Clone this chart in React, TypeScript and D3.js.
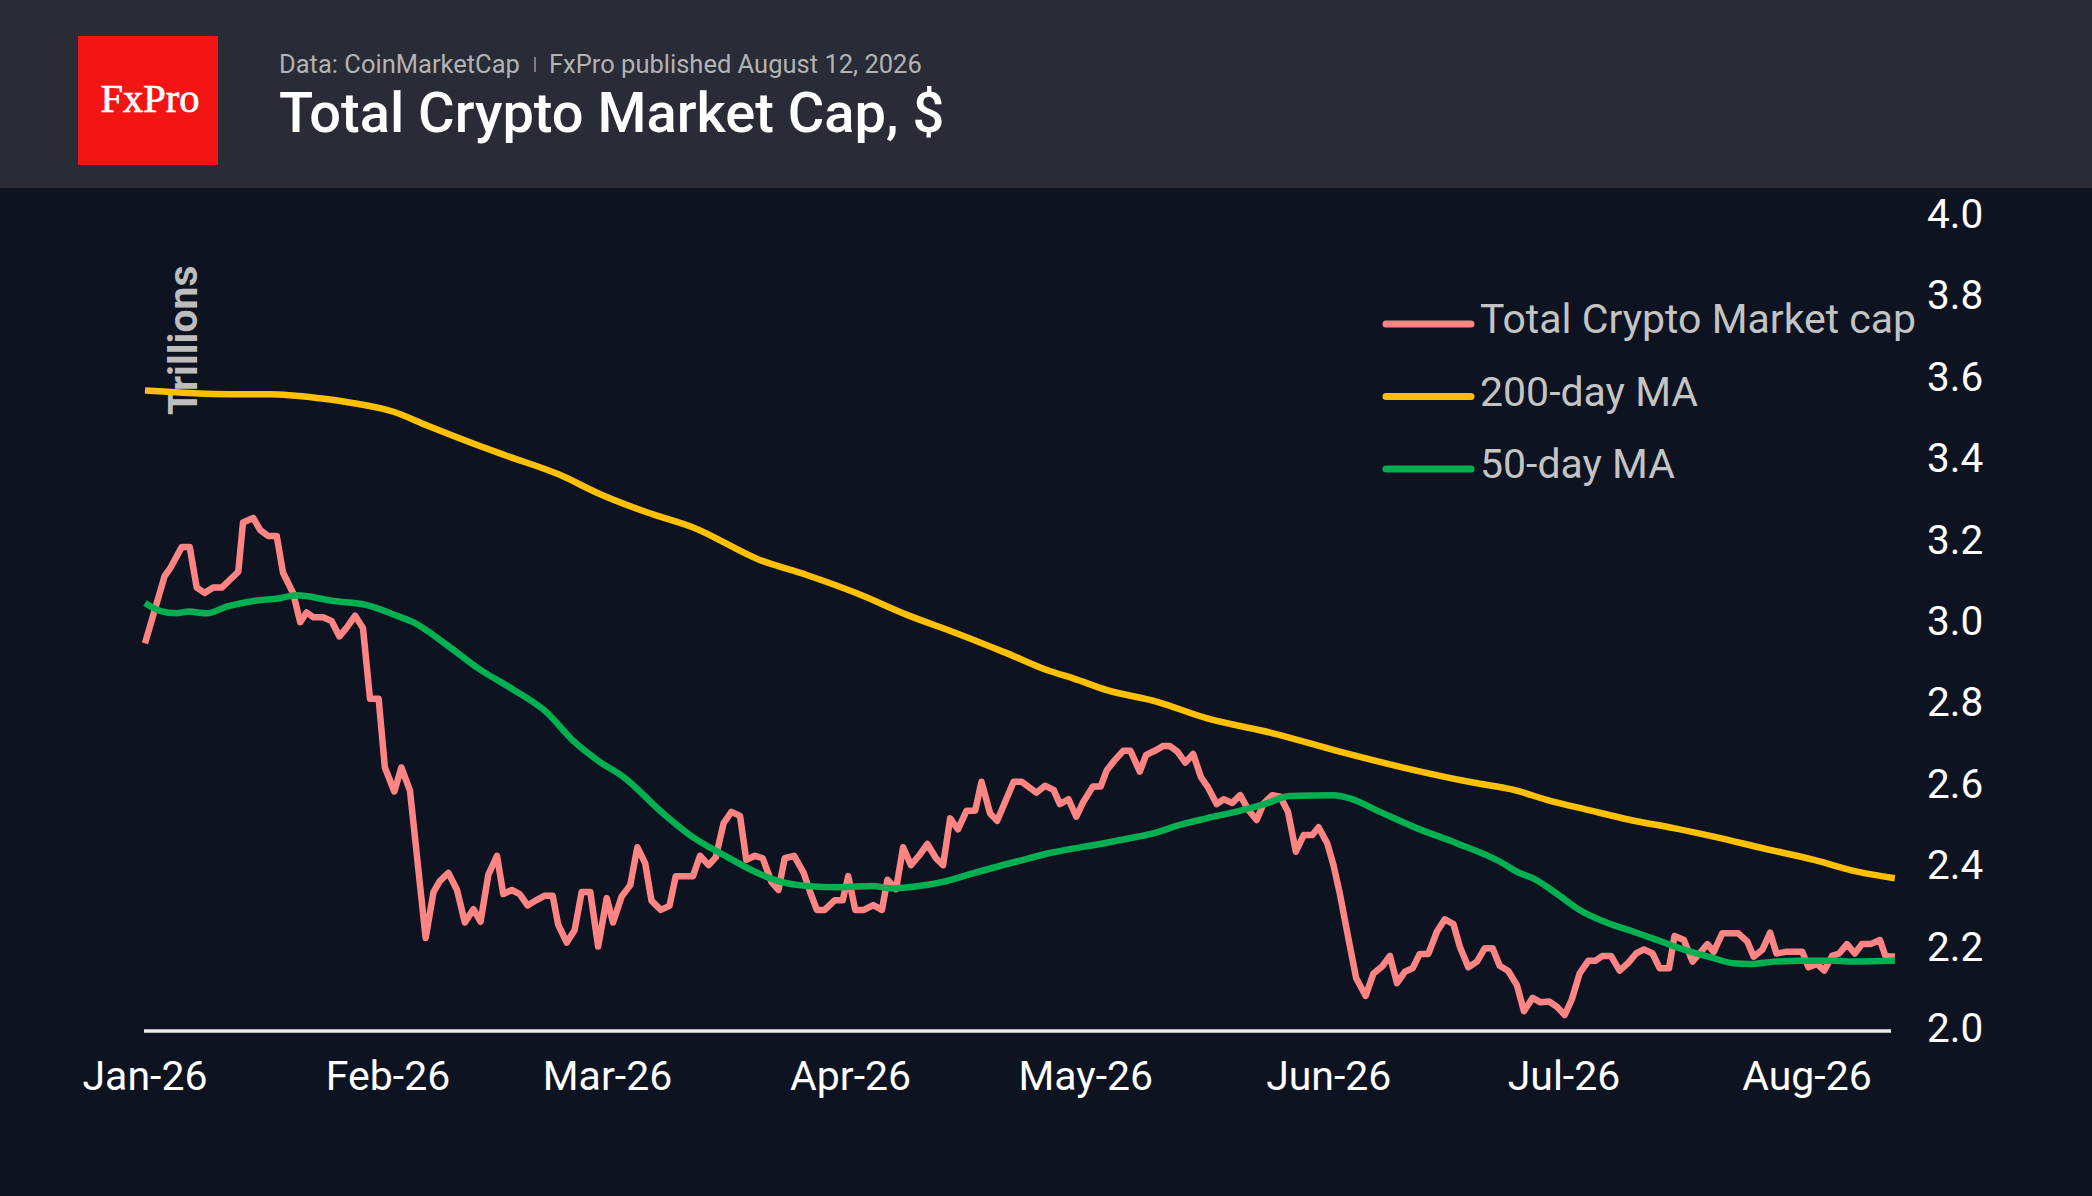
import React from "react";
import * as d3 from "d3";

// x = days since 1 Jan 2026, y = trillions of $
const marketCap: [number, number][] = [
  [0, 2.95], [2.5, 3.115], [3.2, 3.134], [4.7, 3.187], [5.7, 3.187], [6.6, 3.087], [7.6, 3.074],
  [8.7, 3.087], [9.8, 3.087], [11.9, 3.126], [12.5, 3.247], [13.8, 3.258], [14.7, 3.228],
  [15.7, 3.214], [16.8, 3.214], [17.6, 3.124], [18.9, 3.073], [19.8, 3.002], [20.6, 3.026],
  [21.5, 3.014], [22.7, 3.014], [23.8, 3.005], [24.8, 2.967], [25.7, 2.988], [26.8, 3.018],
  [27.8, 2.988], [28.7, 2.814], [29.8, 2.814], [30.6, 2.645], [31.8, 2.586], [32.7, 2.645],
  [33.8, 2.588], [35.8, 2.226], [36.8, 2.339], [37.6, 2.366], [38.7, 2.386], [39.8, 2.344],
  [40.8, 2.264], [41.9, 2.297], [42.8, 2.266], [43.8, 2.382], [44.9, 2.428], [45.7, 2.334],
  [46.8, 2.344], [47.8, 2.334], [48.8, 2.306], [50.0, 2.32], [51.0, 2.33], [52.0, 2.33],
  [52.7, 2.259], [53.8, 2.215], [54.8, 2.245], [55.7, 2.339], [56.8, 2.339], [57.8, 2.205],
  [58.9, 2.324], [59.7, 2.264], [60.8, 2.328], [61.9, 2.356], [62.8, 2.449], [63.8, 2.41],
  [64.6, 2.318], [65.8, 2.295], [66.9, 2.305], [67.7, 2.378], [69.9, 2.378], [70.8, 2.428],
  [71.9, 2.405], [72.8, 2.424], [73.8, 2.508], [74.8, 2.536], [75.9, 2.526], [76.7, 2.418],
  [77.8, 2.428], [78.8, 2.422], [79.9, 2.364], [80.8, 2.344], [81.6, 2.422], [82.8, 2.428],
  [84.0, 2.387], [84.9, 2.336], [85.7, 2.295], [86.7, 2.295], [88.0, 2.319], [89.0, 2.319],
  [89.7, 2.378], [90.6, 2.295], [91.7, 2.295], [92.9, 2.307], [94.0, 2.295], [94.7, 2.369],
  [95.8, 2.346], [96.7, 2.449], [97.7, 2.405], [98.8, 2.43], [99.8, 2.457], [100.9, 2.422],
  [101.8, 2.405], [102.7, 2.52], [103.7, 2.493], [104.8, 2.539], [105.9, 2.539], [106.7, 2.61],
  [107.8, 2.532], [108.7, 2.514], [109.9, 2.569], [110.8, 2.61], [111.8, 2.61], [113.7, 2.583],
  [114.8, 2.6], [115.9, 2.59], [116.7, 2.555], [117.8, 2.567], [118.8, 2.524], [119.7, 2.561],
  [120.9, 2.598], [121.9, 2.598], [122.7, 2.639], [123.7, 2.663], [124.8, 2.686], [125.7, 2.686],
  [126.9, 2.635], [127.7, 2.676], [128.8, 2.686], [129.9, 2.698], [130.7, 2.698], [131.7, 2.684],
  [132.7, 2.657], [133.7, 2.678], [134.7, 2.621], [135.6, 2.596], [136.7, 2.555], [137.6, 2.567],
  [138.7, 2.558], [139.7, 2.577], [140.7, 2.542], [141.8, 2.516], [142.7, 2.557], [143.8, 2.577],
  [144.8, 2.573], [145.8, 2.536], [146.8, 2.438], [147.8, 2.479], [148.9, 2.479], [149.7, 2.498],
  [150.8, 2.459], [151.6, 2.405], [152.4, 2.336], [153.5, 2.225], [154.5, 2.127], [155.7, 2.084],
  [156.7, 2.139], [157.8, 2.156], [158.8, 2.182], [159.7, 2.115], [160.7, 2.143], [161.7, 2.152],
  [162.6, 2.187], [163.7, 2.187], [164.8, 2.242], [165.8, 2.272], [166.9, 2.26], [167.7, 2.206],
  [168.8, 2.154], [169.9, 2.168], [170.9, 2.201], [171.9, 2.201], [172.8, 2.158], [173.9, 2.145],
  [175.0, 2.11], [175.9, 2.046], [177.0, 2.079], [178.0, 2.068], [179.1, 2.07], [180.1, 2.057],
  [181.1, 2.037], [182.0, 2.075], [183.0, 2.139], [184.1, 2.17], [185.0, 2.17], [185.9, 2.182],
  [187.0, 2.182], [188.1, 2.146], [189.2, 2.165], [190.2, 2.188], [191.2, 2.198], [192.3, 2.188],
  [193.2, 2.152], [194.4, 2.152], [195.1, 2.231], [196.3, 2.221], [197.4, 2.168], [198.3, 2.188],
  [199.3, 2.211], [200.1, 2.192], [201.2, 2.238], [203.2, 2.238], [204.4, 2.217], [205.2, 2.18],
  [206.3, 2.197], [207.3, 2.239], [208.1, 2.188], [209.3, 2.192], [211.4, 2.192], [212.2, 2.154],
  [213.3, 2.162], [214.2, 2.146], [215.2, 2.182], [216.1, 2.188], [217.1, 2.211], [218.1, 2.188],
  [219.0, 2.211], [220.1, 2.211], [221.3, 2.221], [222.0, 2.182], [223.2, 2.18],
];

const ma200: [number, number][] = [
  [0, 3.571], [10.8, 3.562], [15.9, 3.562], [22.3, 3.552], [25.7, 3.543], [31.7, 3.519],
  [35.9, 3.486], [42.7, 3.435], [46.1, 3.411], [52.9, 3.364], [58, 3.317], [64, 3.272],
  [70, 3.234], [78.4, 3.155], [84.4, 3.118], [90.8, 3.073], [97.2, 3.02], [103.5, 2.975],
  [109.9, 2.926], [115.4, 2.882], [118.4, 2.864], [122.7, 2.835], [129, 2.807], [135.4, 2.766],
  [143.9, 2.729], [152.4, 2.684], [160.9, 2.643], [169.4, 2.608], [174.6, 2.59], [178.9, 2.565],
  [184, 2.541], [189.5, 2.516], [195, 2.496], [200.1, 2.475], [206.5, 2.446], [212.9, 2.418],
  [218.4, 2.389], [223.2, 2.373],
];

const ma50: [number, number][] = [
  [0, 3.049], [1.9, 3.03], [4, 3.024], [5.6, 3.028], [7.9, 3.024], [10.4, 3.04], [13.8, 3.054],
  [17.2, 3.061], [19.3, 3.068], [24, 3.054], [28.3, 3.044], [31.7, 3.021], [34.2, 3.002],
  [38.5, 2.946], [42.7, 2.886], [47, 2.836], [51.2, 2.781], [54.6, 2.711], [58, 2.659],
  [61, 2.622], [66.1, 2.532], [69.5, 2.479], [73.8, 2.43], [78, 2.387], [80.6, 2.367],
  [84.4, 2.354], [88.6, 2.351], [92.9, 2.354], [95, 2.348], [98, 2.352], [101.8, 2.364],
  [105.6, 2.385], [111.2, 2.414], [115, 2.433], [121.8, 2.457], [125.6, 2.471], [128.6, 2.483],
  [132, 2.504], [135.4, 2.52], [139.7, 2.539], [143.1, 2.557], [146, 2.575], [151.6, 2.577],
  [153.7, 2.569], [157.5, 2.536], [162.2, 2.496], [167.3, 2.459], [172.8, 2.414], [175.4, 2.385],
  [177, 2.373], [180, 2.336], [183, 2.295], [186.4, 2.264], [189.8, 2.242], [193.2, 2.219],
  [196.2, 2.198], [199.6, 2.179], [202.6, 2.164], [204.7, 2.162], [207.8, 2.168], [211.2, 2.17],
  [215.4, 2.17], [218.2, 2.168], [223.2, 2.17],
];

const yTicks = [2.0, 2.2, 2.4, 2.6, 2.8, 3.0, 3.2, 3.4, 3.6, 3.8, 4.0];
const monthTicks = ["2026-01-01", "2026-02-01", "2026-03-01", "2026-04-01", "2026-05-01", "2026-06-01", "2026-07-01", "2026-08-01"];

const legendItems = [
  { label: "Total Crypto Market cap", color: "#ff8585" },
  { label: "200-day MA", color: "#ffc000" },
  { label: "50-day MA", color: "#00b050" },
];

const W = 2092;
const H = 1196;
const FONT = "Roboto, 'Noto Sans', sans-serif";
const DAY = 86400000;
const START = new Date(2026, 0, 1);
const toDate = (d: number) => new Date(START.getTime() + d * DAY);
const parse = (s: string) => {
  const [yy, mm, dd] = s.split("-").map(Number);
  return new Date(yy, mm - 1, dd);
};

export default function App() {
  const x = d3.scaleTime().domain([START, new Date(2026, 7, 1)]).range([145, 1807]);
  const y = d3.scaleLinear().domain([2, 4]).range([1030, 216]);
  const line = d3
    .line<[number, number]>()
    .x((p) => x(toDate(p[0])))
    .y((p) => y(p[1]));
  const smooth = d3
    .line<[number, number]>()
    .x((p) => x(toDate(p[0])))
    .y((p) => y(p[1]))
    .curve(d3.curveMonotoneX);
  const fmtMonth = d3.timeFormat("%b-%y");
  const fmtY = d3.format(".1f");

  return (
    <svg width={W} height={H} style={{ position: "absolute", left: 0, top: 0, display: "block" }} fontFamily={FONT}>
      <rect x={0} y={0} width={W} height={H} fill="#0d1321" />
      <rect x={0} y={0} width={W} height={188} fill="#292b37" />
      {/* logo */}
      <rect x={78} y={36} width={140} height={129} fill="#f41414" />
      <text
        x={150}
        y={112}
        textAnchor="middle"
        fill="#ffffff"
        stroke="#ffffff"
        strokeWidth={0.7}
        fontFamily="'Liberation Serif', 'DejaVu Serif', serif"
        fontSize={40.5}
      >
        FxPro
      </text>
      {/* header text */}
      <text x={279} y={73} fill="#b3b3b3" fontSize={25.5}>
        Data: CoinMarketCap
      </text>
      <line x1={535} x2={535} y1={57} y2={72} stroke="#9a9a9a" strokeWidth={1.5} />
      <text x={549} y={73} fill="#b3b3b3" fontSize={25.5}>
        FxPro published August 12, 2026
      </text>
      <text x={279} y={132} fill="#ffffff" fontSize={56} fontWeight={500}>
        Total Crypto Market Cap, $
      </text>

      {/* axis title */}
      <text transform="translate(197,415) rotate(-90)" fill="#bdbdbd" fontSize={41} fontWeight={700}>
        Trillions
      </text>

      {/* y tick labels */}
      {yTicks.map((t) => (
        <text key={t} x={1927} y={y(t) + 12} fill="#ffffff" fontSize={40.5}>
          {fmtY(t)}
        </text>
      ))}

      {/* x axis */}
      <line x1={144} x2={1891} y1={1031} y2={1031} stroke="#ececec" strokeWidth={3.5} />
      {monthTicks.map((m) => (
        <text key={m} x={x(parse(m))} y={1090} textAnchor="middle" fill="#ffffff" fontSize={41}>
          {fmtMonth(parse(m))}
        </text>
      ))}

      {/* series */}
      <path d={line(marketCap) || ""} fill="none" stroke="#ff8585" strokeWidth={6.5} strokeLinejoin="round" />
      <path d={smooth(ma200) || ""} fill="none" stroke="#ffc000" strokeWidth={6.5} strokeLinejoin="round" />
      <path d={smooth(ma50) || ""} fill="none" stroke="#00b050" strokeWidth={6.5} strokeLinejoin="round" />

      {/* legend */}
      {legendItems.map((it, i) => {
        const ly = 324 + i * 72.5;
        return (
          <g key={it.label}>
            <line x1={1386} x2={1471} y1={ly} y2={ly} stroke={it.color} strokeWidth={7} strokeLinecap="round" />
            <text x={1480} y={ly + 9} fill="#c4c4c4" fontSize={41}>
              {it.label}
            </text>
          </g>
        );
      })}
    </svg>
  );
}
